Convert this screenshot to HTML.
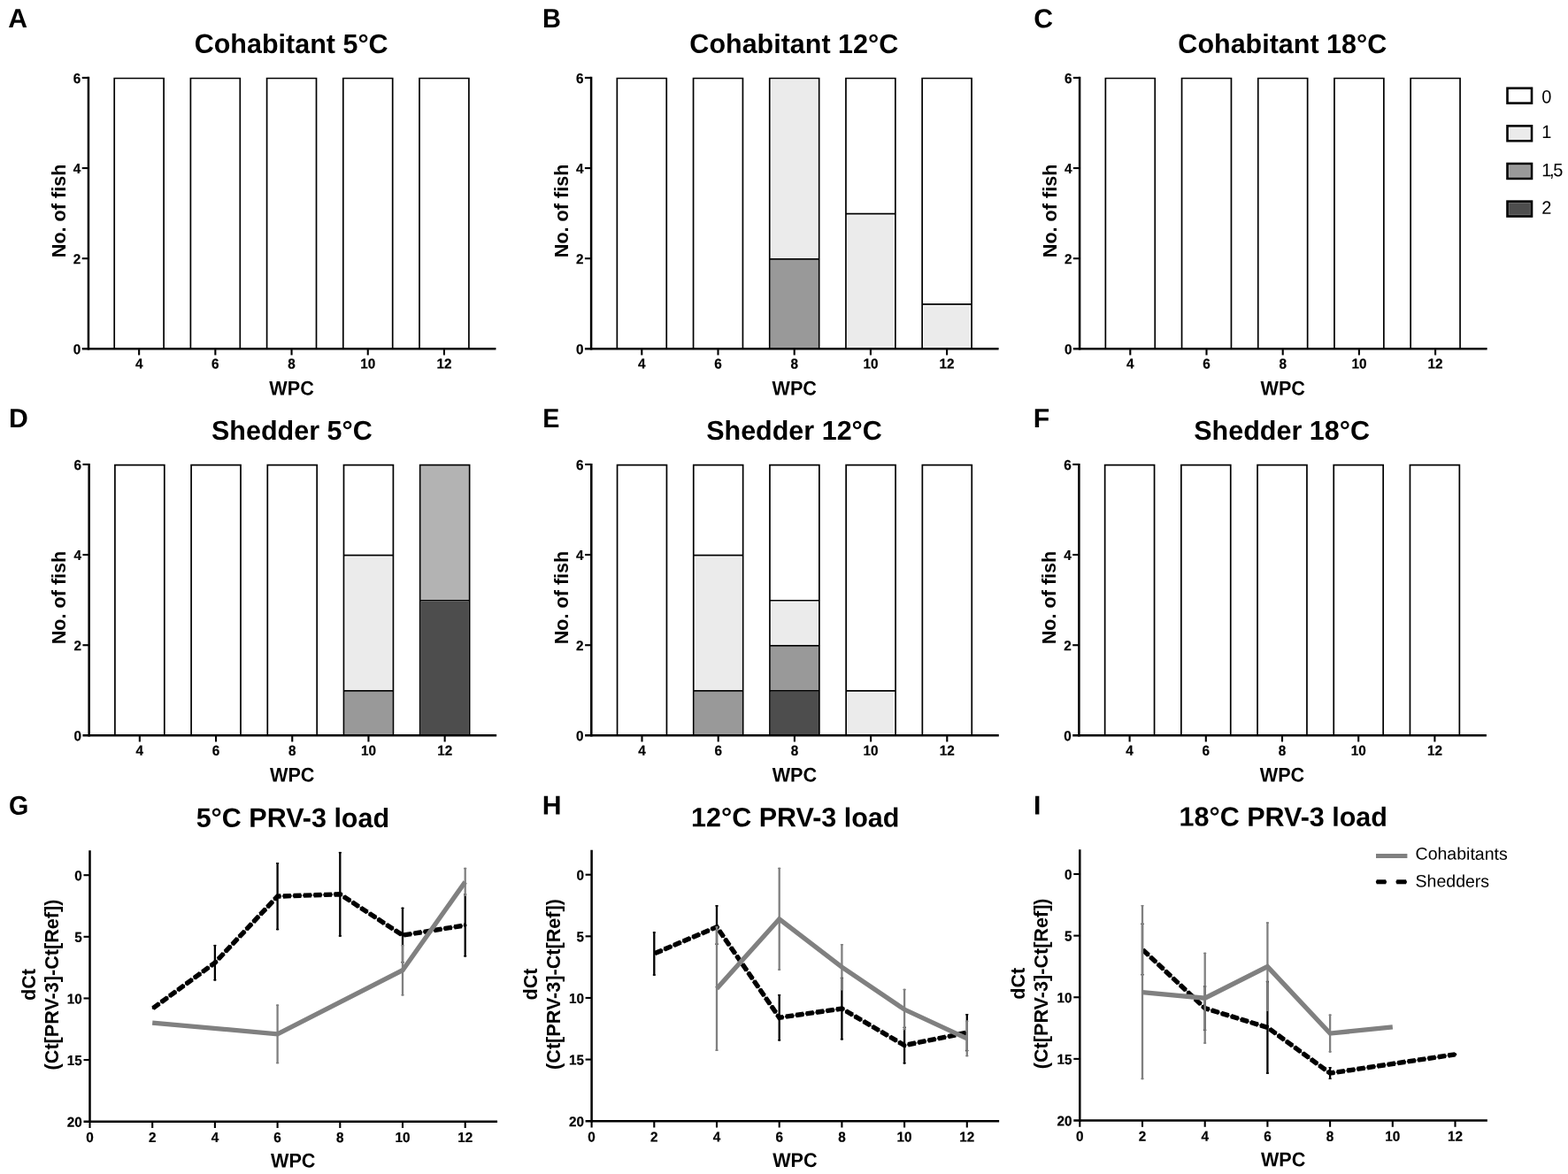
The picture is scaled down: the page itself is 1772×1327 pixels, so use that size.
<!DOCTYPE html>
<html lang="en">
<head>
<meta charset="utf-8">
<title>Histopathology scores and PRV-3 load at 5, 12 and 18 degrees C</title>
<style>
html,body{margin:0;padding:0;background:#fff;}
body{width:1772px;height:1327px;overflow:hidden;}
svg{display:block;}
text{font-family:"Liberation Sans", sans-serif;font-weight:bold;fill:#000;}
text.tk{stroke:#000;stroke-width:0.2px;}
</style>
</head>
<body>
<svg width="1772" height="1327" viewBox="0 0 1772 1327">
<rect x="0" y="0" width="1772" height="1327" fill="#fff"/>
<g>
<text transform="translate(9.20 31.00) rotate(0.03)" font-size="30.2">A</text>
<text transform="translate(329.15 59.90) rotate(0.03)" font-size="30.5" text-anchor="middle">Cohabitant 5°C</text>
<path d="M129.20 394.32V88.50H185.10V394.32" fill="none" stroke="#000" stroke-width="1.7"/>
<path d="M215.40 394.32V88.50H271.30V394.32" fill="none" stroke="#000" stroke-width="1.7"/>
<path d="M301.60 394.32V88.50H357.50V394.32" fill="none" stroke="#000" stroke-width="1.7"/>
<path d="M387.80 394.32V88.50H443.70V394.32" fill="none" stroke="#000" stroke-width="1.7"/>
<path d="M474.00 394.32V88.50H529.90V394.32" fill="none" stroke="#000" stroke-width="1.7"/>
<line x1="99.95" y1="86.85" x2="99.95" y2="395.57" stroke="#000" stroke-width="2.5"/>
<line x1="92.75" y1="394.32" x2="560.45" y2="394.32" stroke="#000" stroke-width="2.5"/>
<line x1="92.75" y1="292.18" x2="99.95" y2="292.18" stroke="#000" stroke-width="2.1"/>
<line x1="92.75" y1="190.04" x2="99.95" y2="190.04" stroke="#000" stroke-width="2.1"/>
<line x1="92.75" y1="87.90" x2="99.95" y2="87.90" stroke="#000" stroke-width="2.1"/>
<text transform="translate(91.25 400.32) rotate(0.03) scale(1 1.04)" font-size="15.3" text-anchor="end" class="tk">0</text>
<text transform="translate(91.25 298.18) rotate(0.03) scale(1 1.04)" font-size="15.3" text-anchor="end" class="tk">2</text>
<text transform="translate(91.25 196.04) rotate(0.03) scale(1 1.04)" font-size="15.3" text-anchor="end" class="tk">4</text>
<text transform="translate(91.25 93.90) rotate(0.03) scale(1 1.04)" font-size="15.3" text-anchor="end" class="tk">6</text>
<line x1="157.15" y1="394.32" x2="157.15" y2="401.42" stroke="#000" stroke-width="2.1"/>
<text transform="translate(157.15 416.62) rotate(0.03) scale(1 1.04)" font-size="15.3" text-anchor="middle" class="tk">4</text>
<line x1="243.35" y1="394.32" x2="243.35" y2="401.42" stroke="#000" stroke-width="2.1"/>
<text transform="translate(243.35 416.62) rotate(0.03) scale(1 1.04)" font-size="15.3" text-anchor="middle" class="tk">6</text>
<line x1="329.55" y1="394.32" x2="329.55" y2="401.42" stroke="#000" stroke-width="2.1"/>
<text transform="translate(329.55 416.62) rotate(0.03) scale(1 1.04)" font-size="15.3" text-anchor="middle" class="tk">8</text>
<line x1="415.75" y1="394.32" x2="415.75" y2="401.42" stroke="#000" stroke-width="2.1"/>
<text transform="translate(415.75 416.62) rotate(0.03) scale(1 1.04)" font-size="15.3" text-anchor="middle" class="tk">10</text>
<line x1="501.95" y1="394.32" x2="501.95" y2="401.42" stroke="#000" stroke-width="2.1"/>
<text transform="translate(501.95 416.62) rotate(0.03) scale(1 1.04)" font-size="15.3" text-anchor="middle" class="tk">12</text>
<text transform="translate(329.55 446.52) rotate(0.03) scale(1 1.04)" font-size="21.6" text-anchor="middle">WPC</text>
<text transform="translate(73.55 238.41) rotate(-90)" font-size="21.6" text-anchor="middle">No. of fish</text>
</g>
<g>
<text transform="translate(613.00 31.00) rotate(0.03) scale(0.96 1)" font-size="30.2">B</text>
<text transform="translate(897.30 59.90) rotate(0.03)" font-size="30.5" text-anchor="middle">Cohabitant 12°C</text>
<path d="M697.35 394.32V88.50H753.25V394.32" fill="none" stroke="#000" stroke-width="1.7"/>
<path d="M783.55 394.32V88.50H839.45V394.32" fill="none" stroke="#000" stroke-width="1.7"/>
<rect x="870.60" y="293.63" width="54.20" height="100.69" fill="#999999"/>
<rect x="871.50" y="90.25" width="52.40" height="201.93" fill="#ebebeb"/>
<path d="M869.75 394.32V88.50H925.65V394.32M869.75 292.78H925.65" fill="none" stroke="#000" stroke-width="1.7"/>
<rect x="957.70" y="243.46" width="52.40" height="150.86" fill="#ebebeb"/>
<path d="M955.95 394.32V88.50H1011.85V394.32M955.95 241.71H1011.85" fill="none" stroke="#000" stroke-width="1.7"/>
<rect x="1043.90" y="345.60" width="52.40" height="48.72" fill="#ebebeb"/>
<path d="M1042.15 394.32V88.50H1098.05V394.32M1042.15 343.85H1098.05" fill="none" stroke="#000" stroke-width="1.7"/>
<line x1="668.10" y1="86.85" x2="668.10" y2="395.57" stroke="#000" stroke-width="2.5"/>
<line x1="660.90" y1="394.32" x2="1128.60" y2="394.32" stroke="#000" stroke-width="2.5"/>
<line x1="660.90" y1="292.18" x2="668.10" y2="292.18" stroke="#000" stroke-width="2.1"/>
<line x1="660.90" y1="190.04" x2="668.10" y2="190.04" stroke="#000" stroke-width="2.1"/>
<line x1="660.90" y1="87.90" x2="668.10" y2="87.90" stroke="#000" stroke-width="2.1"/>
<text transform="translate(659.40 400.32) rotate(0.03) scale(1 1.04)" font-size="15.3" text-anchor="end" class="tk">0</text>
<text transform="translate(659.40 298.18) rotate(0.03) scale(1 1.04)" font-size="15.3" text-anchor="end" class="tk">2</text>
<text transform="translate(659.40 196.04) rotate(0.03) scale(1 1.04)" font-size="15.3" text-anchor="end" class="tk">4</text>
<text transform="translate(659.40 93.90) rotate(0.03) scale(1 1.04)" font-size="15.3" text-anchor="end" class="tk">6</text>
<line x1="725.30" y1="394.32" x2="725.30" y2="401.42" stroke="#000" stroke-width="2.1"/>
<text transform="translate(725.30 416.62) rotate(0.03) scale(1 1.04)" font-size="15.3" text-anchor="middle" class="tk">4</text>
<line x1="811.50" y1="394.32" x2="811.50" y2="401.42" stroke="#000" stroke-width="2.1"/>
<text transform="translate(811.50 416.62) rotate(0.03) scale(1 1.04)" font-size="15.3" text-anchor="middle" class="tk">6</text>
<line x1="897.70" y1="394.32" x2="897.70" y2="401.42" stroke="#000" stroke-width="2.1"/>
<text transform="translate(897.70 416.62) rotate(0.03) scale(1 1.04)" font-size="15.3" text-anchor="middle" class="tk">8</text>
<line x1="983.90" y1="394.32" x2="983.90" y2="401.42" stroke="#000" stroke-width="2.1"/>
<text transform="translate(983.90 416.62) rotate(0.03) scale(1 1.04)" font-size="15.3" text-anchor="middle" class="tk">10</text>
<line x1="1070.10" y1="394.32" x2="1070.10" y2="401.42" stroke="#000" stroke-width="2.1"/>
<text transform="translate(1070.10 416.62) rotate(0.03) scale(1 1.04)" font-size="15.3" text-anchor="middle" class="tk">12</text>
<text transform="translate(897.70 446.52) rotate(0.03) scale(1 1.04)" font-size="21.6" text-anchor="middle">WPC</text>
<text transform="translate(641.70 238.41) rotate(-90)" font-size="21.6" text-anchor="middle">No. of fish</text>
</g>
<g>
<text transform="translate(1168.20 31.20) rotate(0.03)" font-size="30.2">C</text>
<text transform="translate(1449.30 59.90) rotate(0.03)" font-size="30.5" text-anchor="middle">Cohabitant 18°C</text>
<path d="M1249.35 394.32V88.50H1305.25V394.32" fill="none" stroke="#000" stroke-width="1.7"/>
<path d="M1335.55 394.32V88.50H1391.45V394.32" fill="none" stroke="#000" stroke-width="1.7"/>
<path d="M1421.75 394.32V88.50H1477.65V394.32" fill="none" stroke="#000" stroke-width="1.7"/>
<path d="M1507.95 394.32V88.50H1563.85V394.32" fill="none" stroke="#000" stroke-width="1.7"/>
<path d="M1594.15 394.32V88.50H1650.05V394.32" fill="none" stroke="#000" stroke-width="1.7"/>
<line x1="1220.10" y1="86.85" x2="1220.10" y2="395.57" stroke="#000" stroke-width="2.5"/>
<line x1="1212.90" y1="394.32" x2="1680.60" y2="394.32" stroke="#000" stroke-width="2.5"/>
<line x1="1212.90" y1="292.18" x2="1220.10" y2="292.18" stroke="#000" stroke-width="2.1"/>
<line x1="1212.90" y1="190.04" x2="1220.10" y2="190.04" stroke="#000" stroke-width="2.1"/>
<line x1="1212.90" y1="87.90" x2="1220.10" y2="87.90" stroke="#000" stroke-width="2.1"/>
<text transform="translate(1211.40 400.32) rotate(0.03) scale(1 1.04)" font-size="15.3" text-anchor="end" class="tk">0</text>
<text transform="translate(1211.40 298.18) rotate(0.03) scale(1 1.04)" font-size="15.3" text-anchor="end" class="tk">2</text>
<text transform="translate(1211.40 196.04) rotate(0.03) scale(1 1.04)" font-size="15.3" text-anchor="end" class="tk">4</text>
<text transform="translate(1211.40 93.90) rotate(0.03) scale(1 1.04)" font-size="15.3" text-anchor="end" class="tk">6</text>
<line x1="1277.30" y1="394.32" x2="1277.30" y2="401.42" stroke="#000" stroke-width="2.1"/>
<text transform="translate(1277.30 416.62) rotate(0.03) scale(1 1.04)" font-size="15.3" text-anchor="middle" class="tk">4</text>
<line x1="1363.50" y1="394.32" x2="1363.50" y2="401.42" stroke="#000" stroke-width="2.1"/>
<text transform="translate(1363.50 416.62) rotate(0.03) scale(1 1.04)" font-size="15.3" text-anchor="middle" class="tk">6</text>
<line x1="1449.70" y1="394.32" x2="1449.70" y2="401.42" stroke="#000" stroke-width="2.1"/>
<text transform="translate(1449.70 416.62) rotate(0.03) scale(1 1.04)" font-size="15.3" text-anchor="middle" class="tk">8</text>
<line x1="1535.90" y1="394.32" x2="1535.90" y2="401.42" stroke="#000" stroke-width="2.1"/>
<text transform="translate(1535.90 416.62) rotate(0.03) scale(1 1.04)" font-size="15.3" text-anchor="middle" class="tk">10</text>
<line x1="1622.10" y1="394.32" x2="1622.10" y2="401.42" stroke="#000" stroke-width="2.1"/>
<text transform="translate(1622.10 416.62) rotate(0.03) scale(1 1.04)" font-size="15.3" text-anchor="middle" class="tk">12</text>
<text transform="translate(1449.70 446.52) rotate(0.03) scale(1 1.04)" font-size="21.6" text-anchor="middle">WPC</text>
<text transform="translate(1193.70 238.41) rotate(-90)" font-size="21.6" text-anchor="middle">No. of fish</text>
</g>
<g>
<text transform="translate(10.00 483.00) rotate(0.03)" font-size="30.2">D</text>
<text transform="translate(329.85 496.95) rotate(0.03)" font-size="30.5" text-anchor="middle">Shedder 5°C</text>
<path d="M129.90 831.37V525.55H185.80V831.37" fill="none" stroke="#000" stroke-width="1.7"/>
<path d="M216.10 831.37V525.55H272.00V831.37" fill="none" stroke="#000" stroke-width="1.7"/>
<path d="M302.30 831.37V525.55H358.20V831.37" fill="none" stroke="#000" stroke-width="1.7"/>
<rect x="389.35" y="781.75" width="54.20" height="49.62" fill="#999999"/>
<rect x="390.25" y="629.44" width="52.40" height="150.86" fill="#ebebeb"/>
<path d="M388.50 831.37V525.55H444.40V831.37M388.50 780.90H444.40M388.50 627.69H444.40" fill="none" stroke="#000" stroke-width="1.7"/>
<rect x="475.55" y="679.61" width="54.20" height="151.76" fill="#4d4d4d"/>
<rect x="475.55" y="526.40" width="54.20" height="151.76" fill="#b3b3b3"/>
<path d="M474.70 831.37V525.55H530.60V831.37M474.70 678.76H530.60" fill="none" stroke="#000" stroke-width="1.7"/>
<line x1="100.65" y1="523.90" x2="100.65" y2="832.62" stroke="#000" stroke-width="2.5"/>
<line x1="93.45" y1="831.37" x2="561.15" y2="831.37" stroke="#000" stroke-width="2.5"/>
<line x1="93.45" y1="729.23" x2="100.65" y2="729.23" stroke="#000" stroke-width="2.1"/>
<line x1="93.45" y1="627.09" x2="100.65" y2="627.09" stroke="#000" stroke-width="2.1"/>
<line x1="93.45" y1="524.95" x2="100.65" y2="524.95" stroke="#000" stroke-width="2.1"/>
<text transform="translate(91.95 837.37) rotate(0.03) scale(1 1.04)" font-size="15.3" text-anchor="end" class="tk">0</text>
<text transform="translate(91.95 735.23) rotate(0.03) scale(1 1.04)" font-size="15.3" text-anchor="end" class="tk">2</text>
<text transform="translate(91.95 633.09) rotate(0.03) scale(1 1.04)" font-size="15.3" text-anchor="end" class="tk">4</text>
<text transform="translate(91.95 530.95) rotate(0.03) scale(1 1.04)" font-size="15.3" text-anchor="end" class="tk">6</text>
<line x1="157.85" y1="831.37" x2="157.85" y2="838.47" stroke="#000" stroke-width="2.1"/>
<text transform="translate(157.85 853.67) rotate(0.03) scale(1 1.04)" font-size="15.3" text-anchor="middle" class="tk">4</text>
<line x1="244.05" y1="831.37" x2="244.05" y2="838.47" stroke="#000" stroke-width="2.1"/>
<text transform="translate(244.05 853.67) rotate(0.03) scale(1 1.04)" font-size="15.3" text-anchor="middle" class="tk">6</text>
<line x1="330.25" y1="831.37" x2="330.25" y2="838.47" stroke="#000" stroke-width="2.1"/>
<text transform="translate(330.25 853.67) rotate(0.03) scale(1 1.04)" font-size="15.3" text-anchor="middle" class="tk">8</text>
<line x1="416.45" y1="831.37" x2="416.45" y2="838.47" stroke="#000" stroke-width="2.1"/>
<text transform="translate(416.45 853.67) rotate(0.03) scale(1 1.04)" font-size="15.3" text-anchor="middle" class="tk">10</text>
<line x1="502.65" y1="831.37" x2="502.65" y2="838.47" stroke="#000" stroke-width="2.1"/>
<text transform="translate(502.65 853.67) rotate(0.03) scale(1 1.04)" font-size="15.3" text-anchor="middle" class="tk">12</text>
<text transform="translate(330.25 883.57) rotate(0.03) scale(1 1.04)" font-size="21.6" text-anchor="middle">WPC</text>
<text transform="translate(74.25 675.46) rotate(-90)" font-size="21.6" text-anchor="middle">No. of fish</text>
</g>
<g>
<text transform="translate(613.20 483.00) rotate(0.03) scale(0.95 1)" font-size="30.2">E</text>
<text transform="translate(897.50 496.95) rotate(0.03)" font-size="30.5" text-anchor="middle">Shedder 12°C</text>
<path d="M697.55 831.37V525.55H753.45V831.37" fill="none" stroke="#000" stroke-width="1.7"/>
<rect x="784.60" y="781.75" width="54.20" height="49.62" fill="#999999"/>
<rect x="785.50" y="629.44" width="52.40" height="150.86" fill="#ebebeb"/>
<path d="M783.75 831.37V525.55H839.65V831.37M783.75 780.90H839.65M783.75 627.69H839.65" fill="none" stroke="#000" stroke-width="1.7"/>
<rect x="870.80" y="781.75" width="54.20" height="49.62" fill="#4d4d4d"/>
<rect x="870.80" y="730.68" width="54.20" height="49.62" fill="#999999"/>
<rect x="871.70" y="680.51" width="52.40" height="48.72" fill="#ebebeb"/>
<path d="M869.95 831.37V525.55H925.85V831.37M869.95 780.90H925.85M869.95 729.83H925.85M869.95 678.76H925.85" fill="none" stroke="#000" stroke-width="1.7"/>
<rect x="957.90" y="782.65" width="52.40" height="48.72" fill="#ebebeb"/>
<path d="M956.15 831.37V525.55H1012.05V831.37M956.15 780.90H1012.05" fill="none" stroke="#000" stroke-width="1.7"/>
<path d="M1042.35 831.37V525.55H1098.25V831.37" fill="none" stroke="#000" stroke-width="1.7"/>
<line x1="668.30" y1="523.90" x2="668.30" y2="832.62" stroke="#000" stroke-width="2.5"/>
<line x1="661.10" y1="831.37" x2="1128.80" y2="831.37" stroke="#000" stroke-width="2.5"/>
<line x1="661.10" y1="729.23" x2="668.30" y2="729.23" stroke="#000" stroke-width="2.1"/>
<line x1="661.10" y1="627.09" x2="668.30" y2="627.09" stroke="#000" stroke-width="2.1"/>
<line x1="661.10" y1="524.95" x2="668.30" y2="524.95" stroke="#000" stroke-width="2.1"/>
<text transform="translate(659.60 837.37) rotate(0.03) scale(1 1.04)" font-size="15.3" text-anchor="end" class="tk">0</text>
<text transform="translate(659.60 735.23) rotate(0.03) scale(1 1.04)" font-size="15.3" text-anchor="end" class="tk">2</text>
<text transform="translate(659.60 633.09) rotate(0.03) scale(1 1.04)" font-size="15.3" text-anchor="end" class="tk">4</text>
<text transform="translate(659.60 530.95) rotate(0.03) scale(1 1.04)" font-size="15.3" text-anchor="end" class="tk">6</text>
<line x1="725.50" y1="831.37" x2="725.50" y2="838.47" stroke="#000" stroke-width="2.1"/>
<text transform="translate(725.50 853.67) rotate(0.03) scale(1 1.04)" font-size="15.3" text-anchor="middle" class="tk">4</text>
<line x1="811.70" y1="831.37" x2="811.70" y2="838.47" stroke="#000" stroke-width="2.1"/>
<text transform="translate(811.70 853.67) rotate(0.03) scale(1 1.04)" font-size="15.3" text-anchor="middle" class="tk">6</text>
<line x1="897.90" y1="831.37" x2="897.90" y2="838.47" stroke="#000" stroke-width="2.1"/>
<text transform="translate(897.90 853.67) rotate(0.03) scale(1 1.04)" font-size="15.3" text-anchor="middle" class="tk">8</text>
<line x1="984.10" y1="831.37" x2="984.10" y2="838.47" stroke="#000" stroke-width="2.1"/>
<text transform="translate(984.10 853.67) rotate(0.03) scale(1 1.04)" font-size="15.3" text-anchor="middle" class="tk">10</text>
<line x1="1070.30" y1="831.37" x2="1070.30" y2="838.47" stroke="#000" stroke-width="2.1"/>
<text transform="translate(1070.30 853.67) rotate(0.03) scale(1 1.04)" font-size="15.3" text-anchor="middle" class="tk">12</text>
<text transform="translate(897.90 883.57) rotate(0.03) scale(1 1.04)" font-size="21.6" text-anchor="middle">WPC</text>
<text transform="translate(641.90 675.46) rotate(-90)" font-size="21.6" text-anchor="middle">No. of fish</text>
</g>
<g>
<text transform="translate(1167.80 483.00) rotate(0.03)" font-size="30.2">F</text>
<text transform="translate(1448.60 496.95) rotate(0.03)" font-size="30.5" text-anchor="middle">Shedder 18°C</text>
<path d="M1248.65 831.37V525.55H1304.55V831.37" fill="none" stroke="#000" stroke-width="1.7"/>
<path d="M1334.85 831.37V525.55H1390.75V831.37" fill="none" stroke="#000" stroke-width="1.7"/>
<path d="M1421.05 831.37V525.55H1476.95V831.37" fill="none" stroke="#000" stroke-width="1.7"/>
<path d="M1507.25 831.37V525.55H1563.15V831.37" fill="none" stroke="#000" stroke-width="1.7"/>
<path d="M1593.45 831.37V525.55H1649.35V831.37" fill="none" stroke="#000" stroke-width="1.7"/>
<line x1="1219.40" y1="523.90" x2="1219.40" y2="832.62" stroke="#000" stroke-width="2.5"/>
<line x1="1212.20" y1="831.37" x2="1679.90" y2="831.37" stroke="#000" stroke-width="2.5"/>
<line x1="1212.20" y1="729.23" x2="1219.40" y2="729.23" stroke="#000" stroke-width="2.1"/>
<line x1="1212.20" y1="627.09" x2="1219.40" y2="627.09" stroke="#000" stroke-width="2.1"/>
<line x1="1212.20" y1="524.95" x2="1219.40" y2="524.95" stroke="#000" stroke-width="2.1"/>
<text transform="translate(1210.70 837.37) rotate(0.03) scale(1 1.04)" font-size="15.3" text-anchor="end" class="tk">0</text>
<text transform="translate(1210.70 735.23) rotate(0.03) scale(1 1.04)" font-size="15.3" text-anchor="end" class="tk">2</text>
<text transform="translate(1210.70 633.09) rotate(0.03) scale(1 1.04)" font-size="15.3" text-anchor="end" class="tk">4</text>
<text transform="translate(1210.70 530.95) rotate(0.03) scale(1 1.04)" font-size="15.3" text-anchor="end" class="tk">6</text>
<line x1="1276.60" y1="831.37" x2="1276.60" y2="838.47" stroke="#000" stroke-width="2.1"/>
<text transform="translate(1276.60 853.67) rotate(0.03) scale(1 1.04)" font-size="15.3" text-anchor="middle" class="tk">4</text>
<line x1="1362.80" y1="831.37" x2="1362.80" y2="838.47" stroke="#000" stroke-width="2.1"/>
<text transform="translate(1362.80 853.67) rotate(0.03) scale(1 1.04)" font-size="15.3" text-anchor="middle" class="tk">6</text>
<line x1="1449.00" y1="831.37" x2="1449.00" y2="838.47" stroke="#000" stroke-width="2.1"/>
<text transform="translate(1449.00 853.67) rotate(0.03) scale(1 1.04)" font-size="15.3" text-anchor="middle" class="tk">8</text>
<line x1="1535.20" y1="831.37" x2="1535.20" y2="838.47" stroke="#000" stroke-width="2.1"/>
<text transform="translate(1535.20 853.67) rotate(0.03) scale(1 1.04)" font-size="15.3" text-anchor="middle" class="tk">10</text>
<line x1="1621.40" y1="831.37" x2="1621.40" y2="838.47" stroke="#000" stroke-width="2.1"/>
<text transform="translate(1621.40 853.67) rotate(0.03) scale(1 1.04)" font-size="15.3" text-anchor="middle" class="tk">12</text>
<text transform="translate(1449.00 883.57) rotate(0.03) scale(1 1.04)" font-size="21.6" text-anchor="middle">WPC</text>
<text transform="translate(1193.00 675.46) rotate(-90)" font-size="21.6" text-anchor="middle">No. of fish</text>
</g>
<rect x="1703.5" y="99.70" width="27.5" height="16.9" fill="#fff" stroke="#000" stroke-width="2.6"/>
<text transform="translate(1742.30 116.50) rotate(0.03) scale(1 1.04)" font-size="20" style="font-weight:normal">0</text>
<rect x="1703.5" y="142.35" width="27.5" height="16.9" fill="#fbfbfb" stroke="#000" stroke-width="2.6"/>
<rect x="1705.7" y="144.55" width="23.1" height="12.5" fill="#ebebeb"/>
<text transform="translate(1742.30 156.00) rotate(0.03) scale(1 1.04)" font-size="20" style="font-weight:normal">1</text>
<rect x="1703.5" y="185.00" width="27.5" height="16.9" fill="#b4b4b4" stroke="#000" stroke-width="2.6"/>
<rect x="1705.7" y="187.20" width="23.1" height="12.5" fill="#999999"/>
<text transform="translate(1742.30 199.20) rotate(0.03) scale(1 1.04)" font-size="20" style="font-weight:normal">1<tspan dx="-2.4">,</tspan><tspan dx="-1.3">5</tspan></text>
<rect x="1703.5" y="227.65" width="27.5" height="16.9" fill="#6e6e6e" stroke="#000" stroke-width="2.6"/>
<rect x="1705.7" y="229.85" width="23.1" height="12.5" fill="#4d4d4d"/>
<text transform="translate(1742.30 241.70) rotate(0.03) scale(1 1.04)" font-size="20" style="font-weight:normal">2</text>
<g>
<text transform="translate(10.00 920.80) rotate(0.03) scale(0.95 1)" font-size="30.2">G</text>
<text transform="translate(330.88 934.85) rotate(0.03)" font-size="30.5" text-anchor="middle">5°C PRV-3 load</text>
<line x1="242.90" y1="1067.88" x2="242.90" y2="1108.54" stroke="#000" stroke-width="2.3"/>
<line x1="242.00" y1="1068.68" x2="243.80" y2="1068.68" stroke="#000" stroke-width="1.6" stroke-linecap="round"/>
<line x1="242.00" y1="1107.74" x2="243.80" y2="1107.74" stroke="#000" stroke-width="1.6" stroke-linecap="round"/>
<line x1="313.60" y1="975.00" x2="313.60" y2="1051.31" stroke="#000" stroke-width="2.3"/>
<line x1="312.70" y1="975.80" x2="314.50" y2="975.80" stroke="#000" stroke-width="1.6" stroke-linecap="round"/>
<line x1="312.70" y1="1050.51" x2="314.50" y2="1050.51" stroke="#000" stroke-width="1.6" stroke-linecap="round"/>
<line x1="384.30" y1="962.88" x2="384.30" y2="1058.69" stroke="#000" stroke-width="2.3"/>
<line x1="383.40" y1="963.68" x2="385.20" y2="963.68" stroke="#000" stroke-width="1.6" stroke-linecap="round"/>
<line x1="383.40" y1="1057.89" x2="385.20" y2="1057.89" stroke="#000" stroke-width="1.6" stroke-linecap="round"/>
<line x1="455.00" y1="1025.68" x2="455.00" y2="1088.62" stroke="#000" stroke-width="2.3"/>
<line x1="454.10" y1="1026.48" x2="455.90" y2="1026.48" stroke="#000" stroke-width="1.6" stroke-linecap="round"/>
<line x1="454.10" y1="1087.82" x2="455.90" y2="1087.82" stroke="#000" stroke-width="1.6" stroke-linecap="round"/>
<line x1="525.70" y1="1010.23" x2="525.70" y2="1081.52" stroke="#000" stroke-width="2.3"/>
<line x1="524.80" y1="1011.03" x2="526.60" y2="1011.03" stroke="#000" stroke-width="1.6" stroke-linecap="round"/>
<line x1="524.80" y1="1080.72" x2="526.60" y2="1080.72" stroke="#000" stroke-width="1.6" stroke-linecap="round"/>
<polyline points="172.20,1140.15 242.90,1088.21 313.60,1013.15 384.30,1010.78 455.00,1057.15 525.70,1045.87" fill="none" stroke="#000" stroke-width="5.4" stroke-dasharray="8.8 2.75" stroke-dashoffset="-0.9"/>
<polyline points="172.20,1140.15 242.90,1088.21 313.60,1013.15 384.30,1010.78 455.00,1057.15 525.70,1045.87" fill="none" stroke="#000" stroke-width="3.7" stroke-linecap="round" stroke-dasharray="7.1 4.45" stroke-dashoffset="-1.75"/>
<line x1="313.60" y1="1135.41" x2="313.60" y2="1202.25" stroke="#808080" stroke-width="2.3"/>
<line x1="312.70" y1="1136.21" x2="314.50" y2="1136.21" stroke="#808080" stroke-width="1.6" stroke-linecap="round"/>
<line x1="312.70" y1="1201.45" x2="314.50" y2="1201.45" stroke="#808080" stroke-width="1.6" stroke-linecap="round"/>
<line x1="455.00" y1="1067.88" x2="455.00" y2="1125.53" stroke="#808080" stroke-width="2.3"/>
<line x1="454.10" y1="1068.68" x2="455.90" y2="1068.68" stroke="#808080" stroke-width="1.6" stroke-linecap="round"/>
<line x1="454.10" y1="1124.73" x2="455.90" y2="1124.73" stroke="#808080" stroke-width="1.6" stroke-linecap="round"/>
<line x1="525.70" y1="980.85" x2="525.70" y2="1012.87" stroke="#808080" stroke-width="2.3"/>
<line x1="524.80" y1="981.64" x2="526.60" y2="981.64" stroke="#808080" stroke-width="1.6" stroke-linecap="round"/>
<line x1="524.80" y1="1012.07" x2="526.60" y2="1012.07" stroke="#808080" stroke-width="1.6" stroke-linecap="round"/>
<polyline points="172.20,1156.02 313.60,1168.83 455.00,1096.70 525.70,996.86" fill="none" stroke="#808080" stroke-width="5.3" stroke-linejoin="miter"/>
<line x1="101.50" y1="961.35" x2="101.50" y2="1268.95" stroke="#000" stroke-width="2.5"/>
<line x1="94.50" y1="1267.70" x2="562.05" y2="1267.70" stroke="#000" stroke-width="2.5"/>
<line x1="94.50" y1="989.20" x2="101.50" y2="989.20" stroke="#000" stroke-width="2.1"/>
<line x1="94.50" y1="1058.83" x2="101.50" y2="1058.83" stroke="#000" stroke-width="2.1"/>
<line x1="94.50" y1="1128.45" x2="101.50" y2="1128.45" stroke="#000" stroke-width="2.1"/>
<line x1="94.50" y1="1198.08" x2="101.50" y2="1198.08" stroke="#000" stroke-width="2.1"/>
<text transform="translate(92.80 995.20) rotate(0.03) scale(1 1.04)" font-size="15.3" text-anchor="end" class="tk">0</text>
<text transform="translate(92.80 1064.83) rotate(0.03) scale(1 1.04)" font-size="15.3" text-anchor="end" class="tk">5</text>
<text transform="translate(92.80 1134.45) rotate(0.03) scale(1 1.04)" font-size="15.3" text-anchor="end" class="tk">10</text>
<text transform="translate(92.80 1204.08) rotate(0.03) scale(1 1.04)" font-size="15.3" text-anchor="end" class="tk">15</text>
<text transform="translate(92.80 1273.70) rotate(0.03) scale(1 1.04)" font-size="15.3" text-anchor="end" class="tk">20</text>
<line x1="101.50" y1="1267.70" x2="101.50" y2="1275.00" stroke="#000" stroke-width="2.1"/>
<text transform="translate(101.50 1290.90) rotate(0.03) scale(1 1.04)" font-size="15.3" text-anchor="middle" class="tk">0</text>
<line x1="172.20" y1="1267.70" x2="172.20" y2="1275.00" stroke="#000" stroke-width="2.1"/>
<text transform="translate(172.20 1290.90) rotate(0.03) scale(1 1.04)" font-size="15.3" text-anchor="middle" class="tk">2</text>
<line x1="242.90" y1="1267.70" x2="242.90" y2="1275.00" stroke="#000" stroke-width="2.1"/>
<text transform="translate(242.90 1290.90) rotate(0.03) scale(1 1.04)" font-size="15.3" text-anchor="middle" class="tk">4</text>
<line x1="313.60" y1="1267.70" x2="313.60" y2="1275.00" stroke="#000" stroke-width="2.1"/>
<text transform="translate(313.60 1290.90) rotate(0.03) scale(1 1.04)" font-size="15.3" text-anchor="middle" class="tk">6</text>
<line x1="384.30" y1="1267.70" x2="384.30" y2="1275.00" stroke="#000" stroke-width="2.1"/>
<text transform="translate(384.30 1290.90) rotate(0.03) scale(1 1.04)" font-size="15.3" text-anchor="middle" class="tk">8</text>
<line x1="455.00" y1="1267.70" x2="455.00" y2="1275.00" stroke="#000" stroke-width="2.1"/>
<text transform="translate(455.00 1290.90) rotate(0.03) scale(1 1.04)" font-size="15.3" text-anchor="middle" class="tk">10</text>
<line x1="525.70" y1="1267.70" x2="525.70" y2="1275.00" stroke="#000" stroke-width="2.1"/>
<text transform="translate(525.70 1290.90) rotate(0.03) scale(1 1.04)" font-size="15.3" text-anchor="middle" class="tk">12</text>
<text transform="translate(331.27 1319.50) rotate(0.03) scale(1 1.04)" font-size="21.6" text-anchor="middle">WPC</text>
<text transform="translate(39.50 1113.03) rotate(-90)" font-size="21.6" text-anchor="middle">dCt</text>
<text transform="translate(65.50 1113.03) rotate(-90)" font-size="21.6" text-anchor="middle">(Ct[PRV-3]-Ct[Ref])</text>
</g>
<g>
<text transform="translate(612.80 920.60) rotate(0.03)" font-size="30.2">H</text>
<text transform="translate(898.77 934.35) rotate(0.03)" font-size="30.5" text-anchor="middle">12°C PRV-3 load</text>
<line x1="739.30" y1="1053.17" x2="739.30" y2="1102.75" stroke="#000" stroke-width="2.3"/>
<line x1="738.40" y1="1053.97" x2="740.20" y2="1053.97" stroke="#000" stroke-width="1.6" stroke-linecap="round"/>
<line x1="738.40" y1="1101.95" x2="740.20" y2="1101.95" stroke="#000" stroke-width="1.6" stroke-linecap="round"/>
<line x1="810.00" y1="1023.09" x2="810.00" y2="1067.93" stroke="#000" stroke-width="2.3"/>
<line x1="809.10" y1="1023.89" x2="810.90" y2="1023.89" stroke="#000" stroke-width="1.6" stroke-linecap="round"/>
<line x1="809.10" y1="1067.13" x2="810.90" y2="1067.13" stroke="#000" stroke-width="1.6" stroke-linecap="round"/>
<line x1="880.70" y1="1123.91" x2="880.70" y2="1176.55" stroke="#000" stroke-width="2.3"/>
<line x1="879.80" y1="1124.71" x2="881.60" y2="1124.71" stroke="#000" stroke-width="1.6" stroke-linecap="round"/>
<line x1="879.80" y1="1175.75" x2="881.60" y2="1175.75" stroke="#000" stroke-width="1.6" stroke-linecap="round"/>
<line x1="951.40" y1="1104.70" x2="951.40" y2="1175.43" stroke="#000" stroke-width="2.3"/>
<line x1="950.50" y1="1105.50" x2="952.30" y2="1105.50" stroke="#000" stroke-width="1.6" stroke-linecap="round"/>
<line x1="950.50" y1="1174.63" x2="952.30" y2="1174.63" stroke="#000" stroke-width="1.6" stroke-linecap="round"/>
<line x1="1022.10" y1="1160.53" x2="1022.10" y2="1202.59" stroke="#000" stroke-width="2.3"/>
<line x1="1021.20" y1="1161.33" x2="1023.00" y2="1161.33" stroke="#000" stroke-width="1.6" stroke-linecap="round"/>
<line x1="1021.20" y1="1201.79" x2="1023.00" y2="1201.79" stroke="#000" stroke-width="1.6" stroke-linecap="round"/>
<line x1="1092.80" y1="1146.05" x2="1092.80" y2="1188.38" stroke="#000" stroke-width="2.3"/>
<line x1="1091.90" y1="1146.85" x2="1093.70" y2="1146.85" stroke="#000" stroke-width="1.6" stroke-linecap="round"/>
<line x1="1091.90" y1="1187.58" x2="1093.70" y2="1187.58" stroke="#000" stroke-width="1.6" stroke-linecap="round"/>
<polyline points="739.30,1077.96 810.00,1047.74 880.70,1150.23 951.40,1140.06 1022.10,1181.56 1092.80,1167.22" fill="none" stroke="#000" stroke-width="5.4" stroke-dasharray="8.8 2.75" stroke-dashoffset="-0.9"/>
<polyline points="739.30,1077.96 810.00,1047.74 880.70,1150.23 951.40,1140.06 1022.10,1181.56 1092.80,1167.22" fill="none" stroke="#000" stroke-width="3.7" stroke-linecap="round" stroke-dasharray="7.1 4.45" stroke-dashoffset="-1.75"/>
<line x1="810.00" y1="1047.05" x2="810.00" y2="1187.97" stroke="#808080" stroke-width="2.3"/>
<line x1="809.10" y1="1047.85" x2="810.90" y2="1047.85" stroke="#808080" stroke-width="1.6" stroke-linecap="round"/>
<line x1="809.10" y1="1187.17" x2="810.90" y2="1187.17" stroke="#808080" stroke-width="1.6" stroke-linecap="round"/>
<line x1="880.70" y1="980.76" x2="880.70" y2="1096.90" stroke="#808080" stroke-width="2.3"/>
<line x1="879.80" y1="981.56" x2="881.60" y2="981.56" stroke="#808080" stroke-width="1.6" stroke-linecap="round"/>
<line x1="879.80" y1="1096.10" x2="881.60" y2="1096.10" stroke="#808080" stroke-width="1.6" stroke-linecap="round"/>
<line x1="951.40" y1="1066.96" x2="951.40" y2="1119.32" stroke="#808080" stroke-width="2.3"/>
<line x1="950.50" y1="1067.76" x2="952.30" y2="1067.76" stroke="#808080" stroke-width="1.6" stroke-linecap="round"/>
<line x1="950.50" y1="1118.52" x2="952.30" y2="1118.52" stroke="#808080" stroke-width="1.6" stroke-linecap="round"/>
<line x1="1022.10" y1="1117.78" x2="1022.10" y2="1164.29" stroke="#808080" stroke-width="2.3"/>
<line x1="1021.20" y1="1118.58" x2="1023.00" y2="1118.58" stroke="#808080" stroke-width="1.6" stroke-linecap="round"/>
<line x1="1021.20" y1="1163.49" x2="1023.00" y2="1163.49" stroke="#808080" stroke-width="1.6" stroke-linecap="round"/>
<line x1="1092.80" y1="1153.57" x2="1092.80" y2="1194.23" stroke="#808080" stroke-width="2.3"/>
<line x1="1091.90" y1="1154.37" x2="1093.70" y2="1154.37" stroke="#808080" stroke-width="1.6" stroke-linecap="round"/>
<line x1="1091.90" y1="1193.43" x2="1093.70" y2="1193.43" stroke="#808080" stroke-width="1.6" stroke-linecap="round"/>
<polyline points="810.00,1117.51 880.70,1038.83 951.40,1093.14 1022.10,1141.04 1092.80,1173.90" fill="none" stroke="#808080" stroke-width="5.3" stroke-linejoin="miter"/>
<line x1="668.60" y1="960.85" x2="668.60" y2="1268.45" stroke="#000" stroke-width="2.5"/>
<line x1="661.60" y1="1267.20" x2="1129.15" y2="1267.20" stroke="#000" stroke-width="2.5"/>
<line x1="661.60" y1="988.70" x2="668.60" y2="988.70" stroke="#000" stroke-width="2.1"/>
<line x1="661.60" y1="1058.33" x2="668.60" y2="1058.33" stroke="#000" stroke-width="2.1"/>
<line x1="661.60" y1="1127.95" x2="668.60" y2="1127.95" stroke="#000" stroke-width="2.1"/>
<line x1="661.60" y1="1197.58" x2="668.60" y2="1197.58" stroke="#000" stroke-width="2.1"/>
<text transform="translate(659.90 994.70) rotate(0.03) scale(1 1.04)" font-size="15.3" text-anchor="end" class="tk">0</text>
<text transform="translate(659.90 1064.33) rotate(0.03) scale(1 1.04)" font-size="15.3" text-anchor="end" class="tk">5</text>
<text transform="translate(659.90 1133.95) rotate(0.03) scale(1 1.04)" font-size="15.3" text-anchor="end" class="tk">10</text>
<text transform="translate(659.90 1203.58) rotate(0.03) scale(1 1.04)" font-size="15.3" text-anchor="end" class="tk">15</text>
<text transform="translate(659.90 1273.20) rotate(0.03) scale(1 1.04)" font-size="15.3" text-anchor="end" class="tk">20</text>
<line x1="668.60" y1="1267.20" x2="668.60" y2="1274.50" stroke="#000" stroke-width="2.1"/>
<text transform="translate(668.60 1290.40) rotate(0.03) scale(1 1.04)" font-size="15.3" text-anchor="middle" class="tk">0</text>
<line x1="739.30" y1="1267.20" x2="739.30" y2="1274.50" stroke="#000" stroke-width="2.1"/>
<text transform="translate(739.30 1290.40) rotate(0.03) scale(1 1.04)" font-size="15.3" text-anchor="middle" class="tk">2</text>
<line x1="810.00" y1="1267.20" x2="810.00" y2="1274.50" stroke="#000" stroke-width="2.1"/>
<text transform="translate(810.00 1290.40) rotate(0.03) scale(1 1.04)" font-size="15.3" text-anchor="middle" class="tk">4</text>
<line x1="880.70" y1="1267.20" x2="880.70" y2="1274.50" stroke="#000" stroke-width="2.1"/>
<text transform="translate(880.70 1290.40) rotate(0.03) scale(1 1.04)" font-size="15.3" text-anchor="middle" class="tk">6</text>
<line x1="951.40" y1="1267.20" x2="951.40" y2="1274.50" stroke="#000" stroke-width="2.1"/>
<text transform="translate(951.40 1290.40) rotate(0.03) scale(1 1.04)" font-size="15.3" text-anchor="middle" class="tk">8</text>
<line x1="1022.10" y1="1267.20" x2="1022.10" y2="1274.50" stroke="#000" stroke-width="2.1"/>
<text transform="translate(1022.10 1290.40) rotate(0.03) scale(1 1.04)" font-size="15.3" text-anchor="middle" class="tk">10</text>
<line x1="1092.80" y1="1267.20" x2="1092.80" y2="1274.50" stroke="#000" stroke-width="2.1"/>
<text transform="translate(1092.80 1290.40) rotate(0.03) scale(1 1.04)" font-size="15.3" text-anchor="middle" class="tk">12</text>
<text transform="translate(898.38 1319.00) rotate(0.03) scale(1 1.04)" font-size="21.6" text-anchor="middle">WPC</text>
<text transform="translate(606.60 1112.53) rotate(-90)" font-size="21.6" text-anchor="middle">dCt</text>
<text transform="translate(632.60 1112.53) rotate(-90)" font-size="21.6" text-anchor="middle">(Ct[PRV-3]-Ct[Ref])</text>
</g>
<g>
<text transform="translate(1168.00 920.60) rotate(0.03)" font-size="30.2">I</text>
<text transform="translate(1450.27 933.65) rotate(0.03)" font-size="30.5" text-anchor="middle">18°C PRV-3 load</text>
<line x1="1291.00" y1="1043.56" x2="1291.00" y2="1102.60" stroke="#000" stroke-width="2.3"/>
<line x1="1290.10" y1="1044.36" x2="1291.90" y2="1044.36" stroke="#000" stroke-width="1.6" stroke-linecap="round"/>
<line x1="1290.10" y1="1101.80" x2="1291.90" y2="1101.80" stroke="#000" stroke-width="1.6" stroke-linecap="round"/>
<line x1="1361.70" y1="1114.16" x2="1361.70" y2="1165.13" stroke="#000" stroke-width="2.3"/>
<line x1="1360.80" y1="1114.96" x2="1362.60" y2="1114.96" stroke="#000" stroke-width="1.6" stroke-linecap="round"/>
<line x1="1360.80" y1="1164.33" x2="1362.60" y2="1164.33" stroke="#000" stroke-width="1.6" stroke-linecap="round"/>
<line x1="1432.40" y1="1108.87" x2="1432.40" y2="1213.86" stroke="#000" stroke-width="2.3"/>
<line x1="1431.50" y1="1109.67" x2="1433.30" y2="1109.67" stroke="#000" stroke-width="1.6" stroke-linecap="round"/>
<line x1="1431.50" y1="1213.06" x2="1433.30" y2="1213.06" stroke="#000" stroke-width="1.6" stroke-linecap="round"/>
<line x1="1503.10" y1="1206.07" x2="1503.10" y2="1219.99" stroke="#000" stroke-width="2.3"/>
<line x1="1502.20" y1="1206.87" x2="1504.00" y2="1206.87" stroke="#000" stroke-width="1.6" stroke-linecap="round"/>
<line x1="1502.20" y1="1219.19" x2="1504.00" y2="1219.19" stroke="#000" stroke-width="1.6" stroke-linecap="round"/>
<polyline points="1291.00,1073.08 1361.70,1139.64 1432.40,1161.37 1503.10,1213.03 1644.50,1191.86" fill="none" stroke="#000" stroke-width="5.4" stroke-dasharray="8.8 2.75" stroke-dashoffset="-0.9"/>
<polyline points="1291.00,1073.08 1361.70,1139.64 1432.40,1161.37 1503.10,1213.03 1644.50,1191.86" fill="none" stroke="#000" stroke-width="3.7" stroke-linecap="round" stroke-dasharray="7.1 4.45" stroke-dashoffset="-1.75"/>
<line x1="1291.00" y1="1022.95" x2="1291.00" y2="1220.13" stroke="#808080" stroke-width="2.3"/>
<line x1="1290.10" y1="1023.75" x2="1291.90" y2="1023.75" stroke="#808080" stroke-width="1.6" stroke-linecap="round"/>
<line x1="1290.10" y1="1219.33" x2="1291.90" y2="1219.33" stroke="#808080" stroke-width="1.6" stroke-linecap="round"/>
<line x1="1361.70" y1="1076.70" x2="1361.70" y2="1179.75" stroke="#808080" stroke-width="2.3"/>
<line x1="1360.80" y1="1077.50" x2="1362.60" y2="1077.50" stroke="#808080" stroke-width="1.6" stroke-linecap="round"/>
<line x1="1360.80" y1="1178.95" x2="1362.60" y2="1178.95" stroke="#808080" stroke-width="1.6" stroke-linecap="round"/>
<line x1="1432.40" y1="1042.31" x2="1432.40" y2="1142.85" stroke="#808080" stroke-width="2.3"/>
<line x1="1431.50" y1="1043.11" x2="1433.30" y2="1043.11" stroke="#808080" stroke-width="1.6" stroke-linecap="round"/>
<line x1="1431.50" y1="1142.05" x2="1433.30" y2="1142.05" stroke="#808080" stroke-width="1.6" stroke-linecap="round"/>
<line x1="1503.10" y1="1146.47" x2="1503.10" y2="1189.63" stroke="#808080" stroke-width="2.3"/>
<line x1="1502.20" y1="1147.27" x2="1504.00" y2="1147.27" stroke="#808080" stroke-width="1.6" stroke-linecap="round"/>
<line x1="1502.20" y1="1188.83" x2="1504.00" y2="1188.83" stroke="#808080" stroke-width="1.6" stroke-linecap="round"/>
<polyline points="1291.00,1121.54 1361.70,1128.22 1432.40,1092.58 1503.10,1168.05 1573.80,1160.95" fill="none" stroke="#808080" stroke-width="5.3" stroke-linejoin="miter"/>
<line x1="1220.30" y1="960.15" x2="1220.30" y2="1267.75" stroke="#000" stroke-width="2.5"/>
<line x1="1213.30" y1="1266.50" x2="1680.85" y2="1266.50" stroke="#000" stroke-width="2.5"/>
<line x1="1213.30" y1="988.00" x2="1220.30" y2="988.00" stroke="#000" stroke-width="2.1"/>
<line x1="1213.30" y1="1057.62" x2="1220.30" y2="1057.62" stroke="#000" stroke-width="2.1"/>
<line x1="1213.30" y1="1127.25" x2="1220.30" y2="1127.25" stroke="#000" stroke-width="2.1"/>
<line x1="1213.30" y1="1196.88" x2="1220.30" y2="1196.88" stroke="#000" stroke-width="2.1"/>
<text transform="translate(1211.60 994.00) rotate(0.03) scale(1 1.04)" font-size="15.3" text-anchor="end" class="tk">0</text>
<text transform="translate(1211.60 1063.62) rotate(0.03) scale(1 1.04)" font-size="15.3" text-anchor="end" class="tk">5</text>
<text transform="translate(1211.60 1133.25) rotate(0.03) scale(1 1.04)" font-size="15.3" text-anchor="end" class="tk">10</text>
<text transform="translate(1211.60 1202.88) rotate(0.03) scale(1 1.04)" font-size="15.3" text-anchor="end" class="tk">15</text>
<text transform="translate(1211.60 1272.50) rotate(0.03) scale(1 1.04)" font-size="15.3" text-anchor="end" class="tk">20</text>
<line x1="1220.30" y1="1266.50" x2="1220.30" y2="1273.80" stroke="#000" stroke-width="2.1"/>
<text transform="translate(1220.30 1289.70) rotate(0.03) scale(1 1.04)" font-size="15.3" text-anchor="middle" class="tk">0</text>
<line x1="1291.00" y1="1266.50" x2="1291.00" y2="1273.80" stroke="#000" stroke-width="2.1"/>
<text transform="translate(1291.00 1289.70) rotate(0.03) scale(1 1.04)" font-size="15.3" text-anchor="middle" class="tk">2</text>
<line x1="1361.70" y1="1266.50" x2="1361.70" y2="1273.80" stroke="#000" stroke-width="2.1"/>
<text transform="translate(1361.70 1289.70) rotate(0.03) scale(1 1.04)" font-size="15.3" text-anchor="middle" class="tk">4</text>
<line x1="1432.40" y1="1266.50" x2="1432.40" y2="1273.80" stroke="#000" stroke-width="2.1"/>
<text transform="translate(1432.40 1289.70) rotate(0.03) scale(1 1.04)" font-size="15.3" text-anchor="middle" class="tk">6</text>
<line x1="1503.10" y1="1266.50" x2="1503.10" y2="1273.80" stroke="#000" stroke-width="2.1"/>
<text transform="translate(1503.10 1289.70) rotate(0.03) scale(1 1.04)" font-size="15.3" text-anchor="middle" class="tk">8</text>
<line x1="1573.80" y1="1266.50" x2="1573.80" y2="1273.80" stroke="#000" stroke-width="2.1"/>
<text transform="translate(1573.80 1289.70) rotate(0.03) scale(1 1.04)" font-size="15.3" text-anchor="middle" class="tk">10</text>
<line x1="1644.50" y1="1266.50" x2="1644.50" y2="1273.80" stroke="#000" stroke-width="2.1"/>
<text transform="translate(1644.50 1289.70) rotate(0.03) scale(1 1.04)" font-size="15.3" text-anchor="middle" class="tk">12</text>
<text transform="translate(1450.08 1318.30) rotate(0.03) scale(1 1.04)" font-size="21.6" text-anchor="middle">WPC</text>
<text transform="translate(1158.30 1111.83) rotate(-90)" font-size="21.6" text-anchor="middle">dCt</text>
<text transform="translate(1184.30 1111.83) rotate(-90)" font-size="21.6" text-anchor="middle">(Ct[PRV-3]-Ct[Ref])</text>
</g>
<line x1="1555.00" y1="967.50" x2="1590.40" y2="967.50" stroke="#808080" stroke-width="5.2"/>
<line x1="1555.70" y1="996.80" x2="1566.20" y2="996.80" stroke="#000" stroke-width="5"/>
<line x1="1556.70" y1="996.80" x2="1565.20" y2="996.80" stroke="#000" stroke-width="3.8" stroke-linecap="round"/>
<line x1="1578.30" y1="996.80" x2="1589.10" y2="996.80" stroke="#000" stroke-width="5"/>
<line x1="1579.30" y1="996.80" x2="1588.10" y2="996.80" stroke="#000" stroke-width="3.8" stroke-linecap="round"/>
<text transform="translate(1599.60 971.60) rotate(0.03)" font-size="19.5" style="font-weight:normal">Cohabitants</text>
<text transform="translate(1599.60 1002.60) rotate(0.03)" font-size="19.5" style="font-weight:normal">Shedders</text>
</svg>
</body>
</html>
